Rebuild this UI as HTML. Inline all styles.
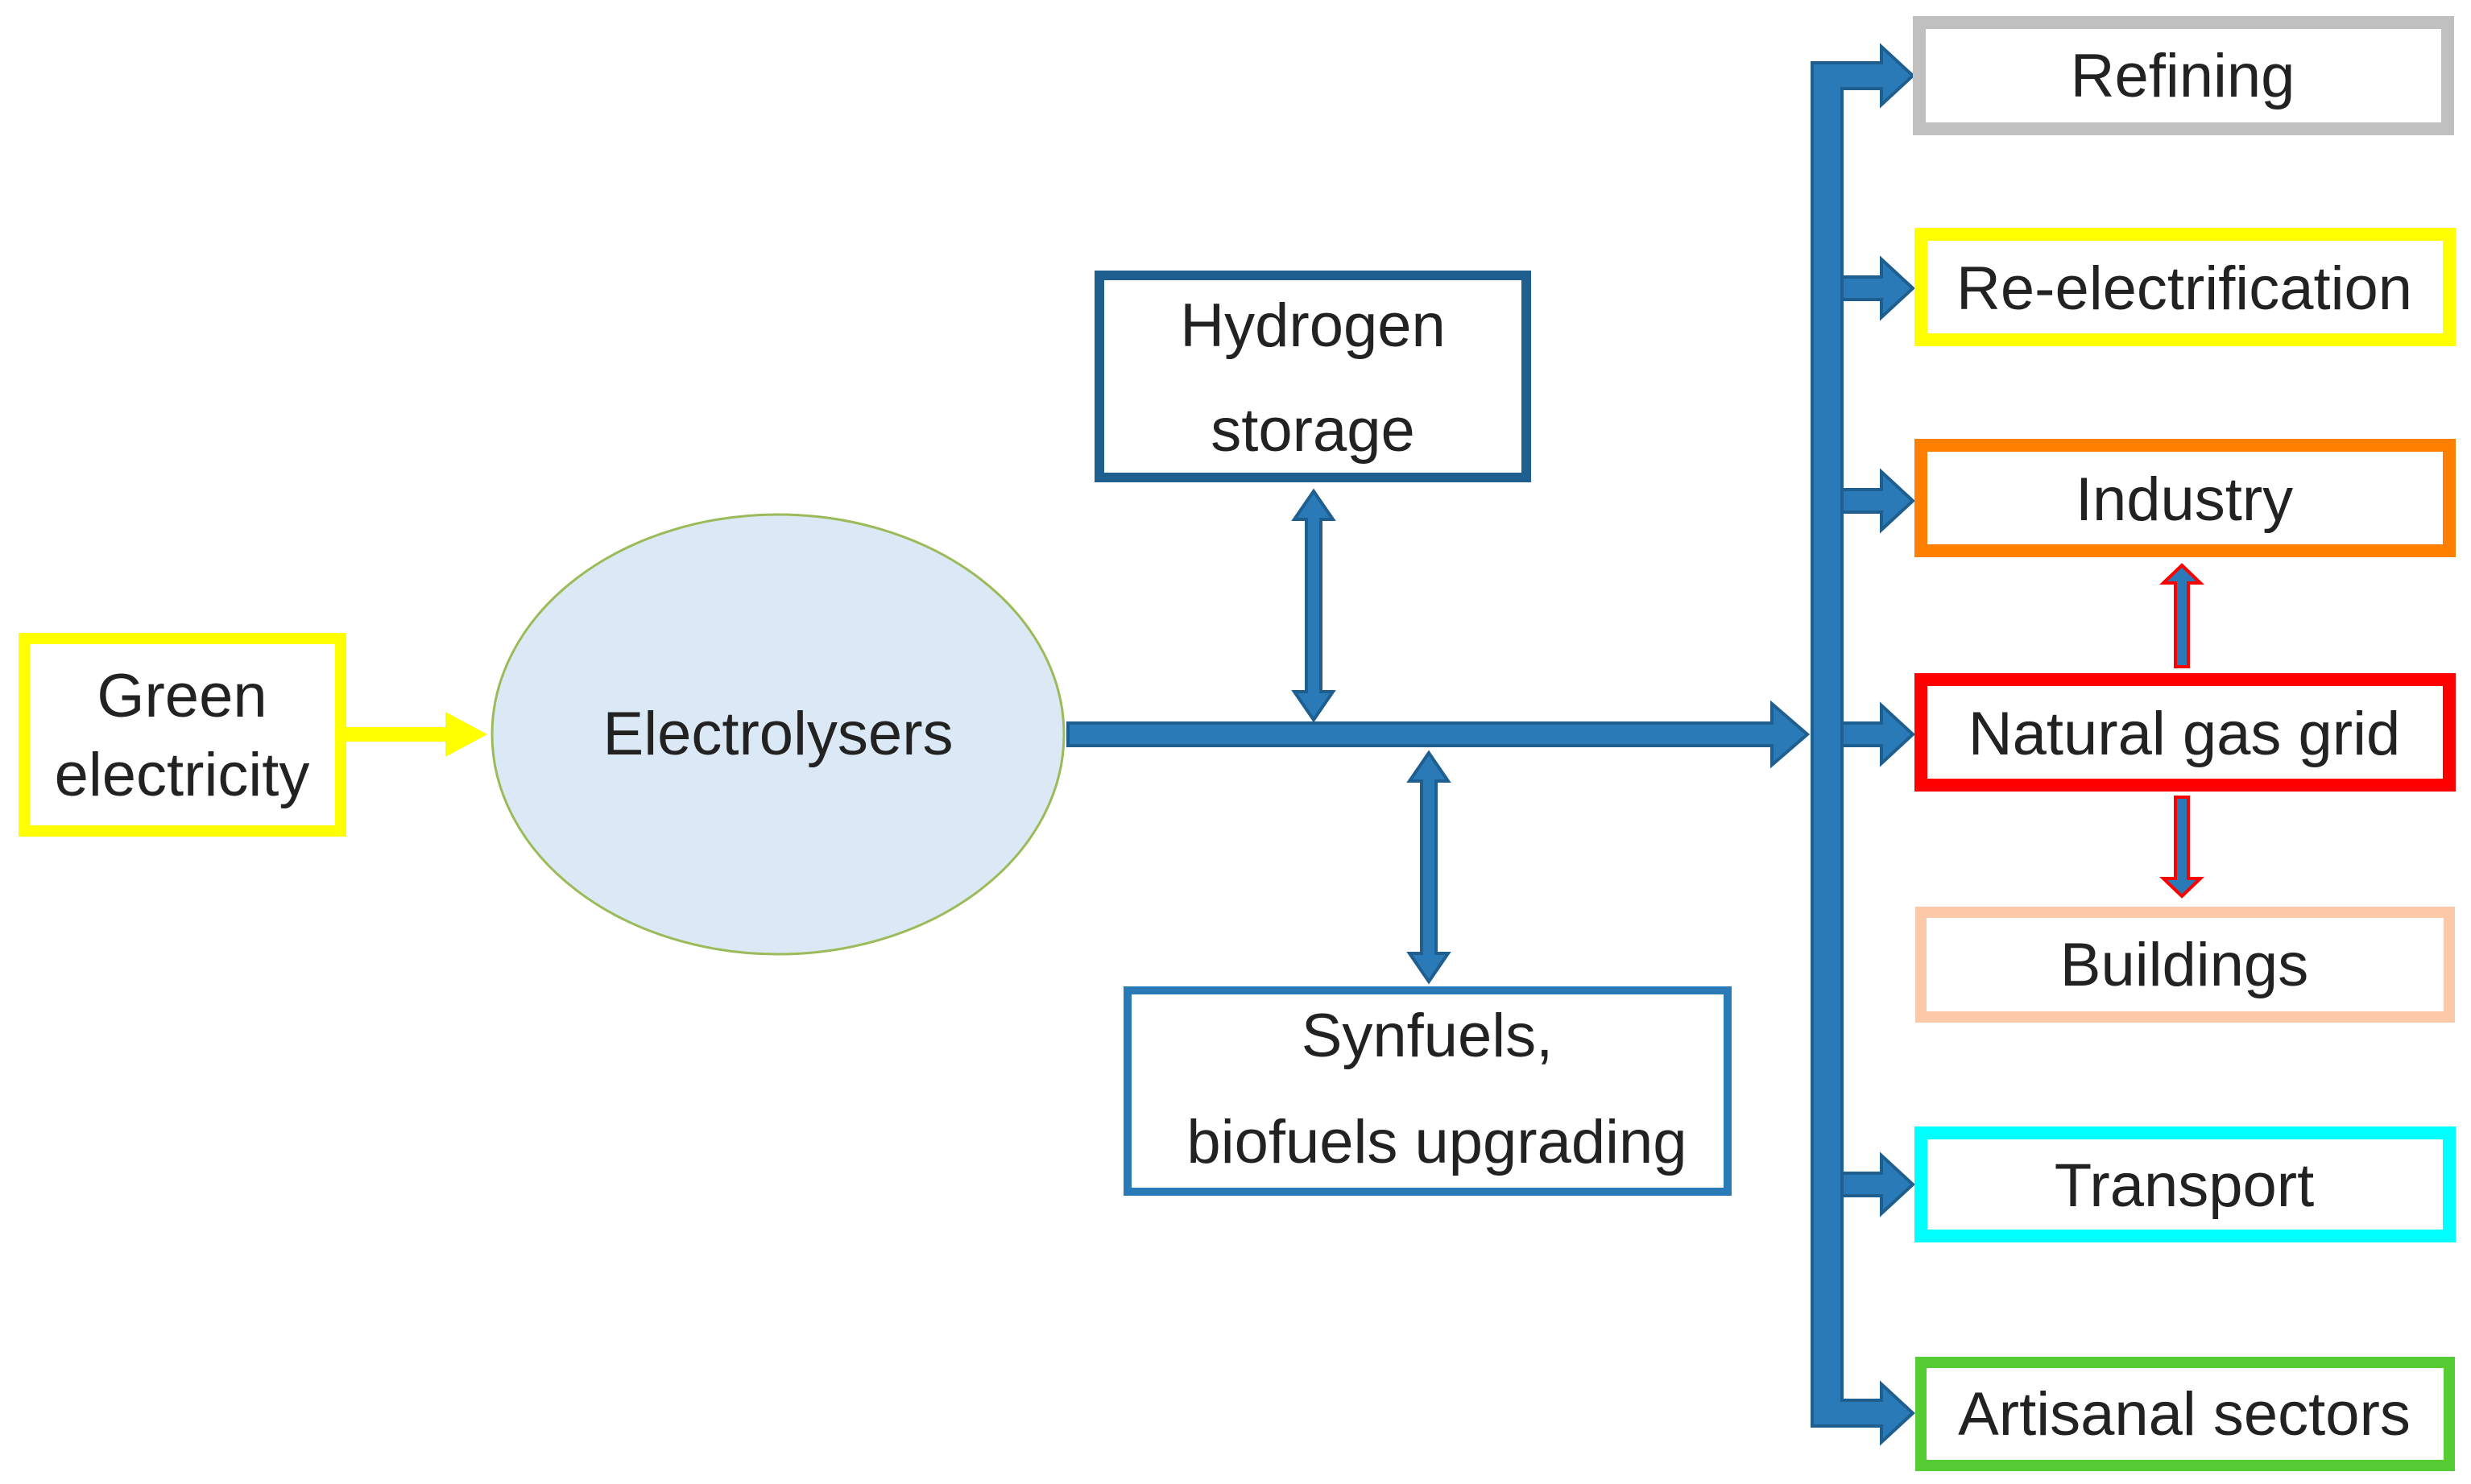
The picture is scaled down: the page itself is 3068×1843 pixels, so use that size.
<!DOCTYPE html>
<html><head><style>
html,body{margin:0;padding:0;background:#fff;}
svg{display:block;}
text{font-family:"Liberation Sans",sans-serif;fill:#222;}
</style></head><body>
<svg width="3068" height="1843" viewBox="0 0 3068 1843" xmlns="http://www.w3.org/2000/svg">
<!-- Green electricity -->
<rect x="30" y="793" width="393" height="239" fill="#fff" stroke="#ffff00" stroke-width="14"/>
<text x="226" y="890" font-size="76" text-anchor="middle">Green</text>
<text x="226" y="988" font-size="76" text-anchor="middle">electricity</text>
<!-- yellow arrow -->
<rect x="430" y="903" width="125" height="18" fill="#ffff00"/>
<polygon points="553,884 605,912 553,940" fill="#ffff00"/>
<!-- Ellipse -->
<ellipse cx="966" cy="912" rx="355" ry="273" fill="#dbe9f6" stroke="#9bbb59" stroke-width="3"/>
<text x="966" y="937" font-size="76" text-anchor="middle">Electrolysers</text>
<!-- Hydrogen storage -->
<rect x="1365" y="342" width="530" height="251" fill="#fff" stroke="#1f5f8f" stroke-width="12"/>
<text x="1630" y="430" font-size="76" text-anchor="middle">Hydrogen</text>
<text x="1630" y="560" font-size="76" text-anchor="middle">storage</text>
<!-- Synfuels -->
<rect x="1400" y="1230" width="745" height="250" fill="#fff" stroke="#2a7ab8" stroke-width="10"/>
<text x="1772" y="1312" font-size="76" text-anchor="middle">Synfuels,</text>
<text x="1784" y="1444" font-size="76" text-anchor="middle">biofuels upgrading</text>
<g fill="#2a7ab8" stroke="#1f5f8f" stroke-width="4">
<polygon points="1326,898 2200,898 2200,874 2244,912 2200,950 2200,926 1326,926"/>
<polygon points="1631,610 1655,645 1640,645 1640,859 1655,859 1631,894 1607,859 1622,859 1622,645 1607,645"/>
<polygon points="1774,935 1798,970 1783,970 1783,1184 1798,1184 1774,1219 1750,1184 1765,1184 1765,970 1750,970"/>
</g>
<g fill="#2a7ab8" stroke="#1f5f8f" stroke-width="4">
<polygon points="2262,344 2336,344 2336,322 2375,358 2336,394 2336,372 2262,372"/>
<polygon points="2262,608 2336,608 2336,586 2375,622 2336,658 2336,636 2262,636"/>
<polygon points="2262,898 2336,898 2336,876 2375,912 2336,948 2336,926 2262,926"/>
<polygon points="2262,1457 2336,1457 2336,1435 2375,1471 2336,1507 2336,1485 2262,1485"/>
<polygon points="2250,78 2336,78 2336,58 2375,94 2336,130 2336,110 2287,110 2287,1739 2336,1739 2336,1719 2375,1755 2336,1791 2336,1771 2250,1771"/>
</g>
<!-- Right boxes -->
<rect x="2383" y="28" width="656" height="132" fill="#fff" stroke="#c0c0c0" stroke-width="16"/>
<text x="2710" y="120" font-size="76" text-anchor="middle">Refining</text>
<rect x="2385" y="291" width="656" height="131" fill="#fff" stroke="#ffff00" stroke-width="16"/>
<text x="2712" y="384" font-size="76" text-anchor="middle">Re-electrification</text>
<rect x="2385" y="553" width="656" height="131" fill="#fff" stroke="#ff8000" stroke-width="16"/>
<text x="2712" y="646" font-size="76" text-anchor="middle">Industry</text>
<rect x="2385" y="844" width="656" height="131" fill="#fff" stroke="#ff0000" stroke-width="16"/>
<text x="2712" y="937" font-size="76" text-anchor="middle">Natural gas grid</text>
<rect x="2385" y="1133" width="656" height="130" fill="#fff" stroke="#fcc9a8" stroke-width="14"/>
<text x="2712" y="1224" font-size="76" text-anchor="middle">Buildings</text>
<rect x="2385" y="1407" width="656" height="128" fill="#fff" stroke="#00ffff" stroke-width="16"/>
<text x="2712" y="1498" font-size="76" text-anchor="middle">Transport</text>
<rect x="2385" y="1692" width="656" height="128" fill="#fff" stroke="#55cc33" stroke-width="14"/>
<text x="2712" y="1782" font-size="76" text-anchor="middle">Artisanal sectors</text>
<!-- red arrows -->
<g fill="#2a7ab8" stroke="#ff0000" stroke-width="4">
<polygon points="2709,702 2732,724 2717,724 2717,828 2701,828 2701,724 2686,724"/>
<polygon points="2709,1113 2732,1091 2717,1091 2717,990 2701,990 2701,1091 2686,1091"/>
</g>
</svg>
</body></html>
